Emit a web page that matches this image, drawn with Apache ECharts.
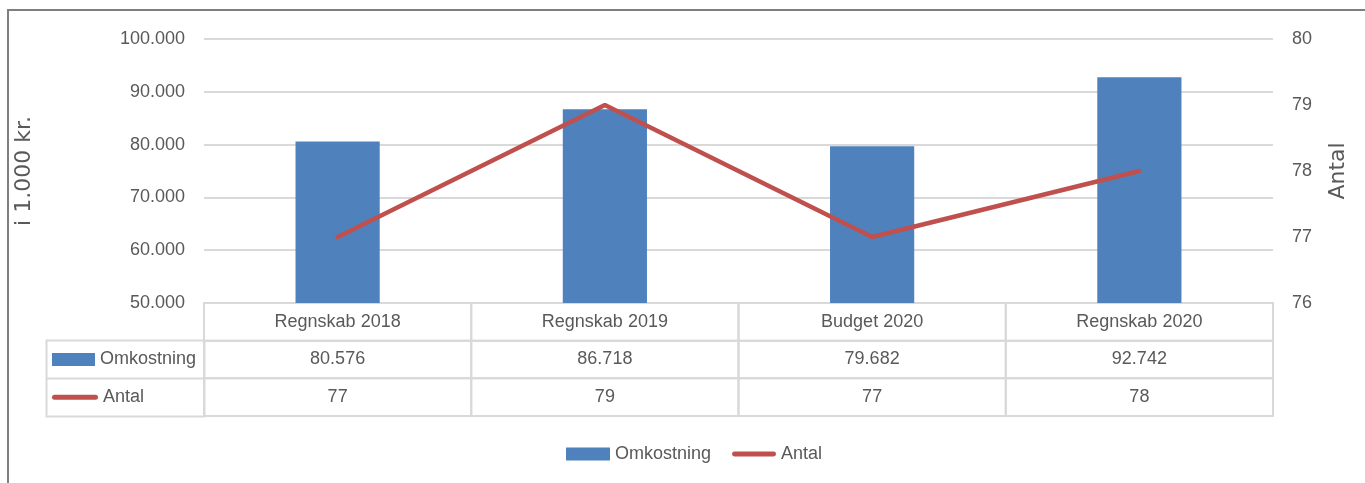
<!DOCTYPE html>
<html>
<head>
<meta charset="utf-8">
<script src="https://cdn.jsdelivr.net/npm/echarts@6/dist/echarts.min.js"></script>
<style>
html,body{margin:0;padding:0;background:#fff;}
#c{width:1365px;height:483px;}
</style>
</head>
<body>
<div id="c"></div>
<script>
const categories = ['Regnskab 2018', 'Regnskab 2019', 'Budget 2020', 'Regnskab 2020'];
const omkostning = [80576, 86718, 79682, 92742];
const antal = [77, 79, 77, 78];
const seriesNames = ['Omkostning', 'Antal'];

const FONT = '"Liberation Sans", Arial, sans-serif';
const TFONT = '"DejaVu Sans", Verdana, sans-serif';
const FS = 18;
const TXT = '#595959';
const GRIDC = '#d9d9d9';
const BLUE = '#4F81BD';
const RED = '#C0504D';

function fmt(v) {
  return String(v).replace(/\B(?=(\d{3})+(?!\d))/g, '.');
}

// table cells: [colIdx, rowIdx]
const tableRows = [categories, omkostning.map(fmt), antal.map(String)];
const tableData = [];
tableRows.forEach((row, r) => row.forEach((t, c) => tableData.push([c, r])));

const chart = echarts.init(document.getElementById('c'), null, {renderer: 'canvas'});
chart.setOption({
  animation: false,
  textStyle: {fontFamily: FONT},
  graphic: [
    {type: 'polyline', shape: {points: [[8, 483], [8, 10], [1365, 10]]}, style: {stroke: '#7f7f7f', lineWidth: 2, fill: null}, silent: true},
    {type: 'rect', shape: {x: 46.5, y: 340.5, width: 158, height: 76}, style: {stroke: GRIDC, lineWidth: 2, fill: null}, silent: true},
    {type: 'line', shape: {x1: 46.5, y1: 378.5, x2: 204, y2: 378.5}, style: {stroke: GRIDC, lineWidth: 2}, silent: true}
  ],
  grid: [
    {left: 204, right: 92, top: 39, height: 264},
    {left: 204, right: 92, top: 303, height: 113}
  ],
  legend: {
    bottom: 15,
    left: 561,
    itemGap: 21,
    itemWidth: 44,
    itemHeight: 13,
    textStyle: {color: TXT, fontSize: FS, fontFamily: FONT},
    data: [
      {name: seriesNames[0], icon: 'rect'},
      {name: seriesNames[1], icon: 'path://M2.5,0 h41 a2.5,2.5 0 0 1 0,5 h-41 a2.5,2.5 0 0 1 0,-5 z'}
    ]
  },
  xAxis: [
    {type: 'category', gridIndex: 0, data: categories, axisLine: {show: false}, axisTick: {show: false}, axisLabel: {show: false}},
    {type: 'category', gridIndex: 1, data: categories, axisLine: {show: false}, axisTick: {show: false}, axisLabel: {show: false}}
  ],
  yAxis: [
    {
      type: 'value', gridIndex: 0, min: 50000, max: 100000, interval: 10000,
      name: 'i 1.000 kr.', nameLocation: 'middle', nameGap: 169, nameRotate: 90,
      nameTextStyle: {color: TXT, fontSize: 22, fontFamily: TFONT},
      axisLine: {show: false}, axisTick: {show: false},
      axisLabel: {color: TXT, fontSize: FS, margin: 19, formatter: v => fmt(v), fontFamily: FONT},
      splitLine: {lineStyle: {color: GRIDC, width: 2}}
    },
    {
      type: 'value', gridIndex: 0, min: 76, max: 80, interval: 1, position: 'right',
      name: 'Antal', nameLocation: 'middle', nameGap: 54, nameRotate: 90,
      nameTextStyle: {color: TXT, fontSize: 22, fontFamily: TFONT},
      axisLine: {show: false}, axisTick: {show: false},
      axisLabel: {color: TXT, fontSize: FS, margin: 19, fontFamily: FONT},
      splitLine: {show: false}
    },
    {
      type: 'category', gridIndex: 1, data: ['', seriesNames[0], seriesNames[1]], inverse: true,
      axisLine: {show: false}, axisTick: {show: false}, splitLine: {show: false},
      axisLabel: {
        margin: 152, align: 'left', color: TXT, fontSize: FS, fontFamily: FONT,
        formatter: v => v === seriesNames[0] ? '{b|}{t|' + v + '}' : (v === seriesNames[1] ? '{l|}{t|' + v + '}' : ''),
        rich: {
          b: {width: 43, height: 13, backgroundColor: BLUE},
          l: {width: 46, height: 5, backgroundColor: RED, borderRadius: 3},
          t: {color: TXT, fontSize: FS, fontFamily: FONT, padding: [0, 0, 0, 5]}
        }
      }
    }
  ],
  series: [
    {
      name: seriesNames[0], type: 'bar', xAxisIndex: 0, yAxisIndex: 0,
      data: omkostning, barWidth: '31.5%', itemStyle: {color: BLUE}
    },
    {
      name: seriesNames[1], type: 'line', xAxisIndex: 0, yAxisIndex: 1,
      data: antal, symbol: 'none', lineStyle: {color: RED, width: 4.5, cap: 'round'}, itemStyle: {color: RED}
    },
    {
      type: 'custom', xAxisIndex: 1, yAxisIndex: 2, data: tableData, silent: true,
      renderItem: function (params, api) {
        const c = api.value(0), r = api.value(1);
        const p = api.coord([c, r]);
        const s = api.size([1, 1]);
        return {
          type: 'group',
          children: [
            {type: 'rect', shape: {x: p[0] - s[0] / 2, y: p[1] - s[1] / 2, width: s[0], height: s[1]},
             style: {fill: null, stroke: GRIDC, lineWidth: 2}},
            {type: 'text', x: p[0], y: p[1],
             style: {text: tableRows[r][c], fill: TXT, font: FS + 'px ' + FONT, align: 'center', verticalAlign: 'middle'}}
          ]
        };
      }
    }
  ]
});
</script>
</body>
</html>
